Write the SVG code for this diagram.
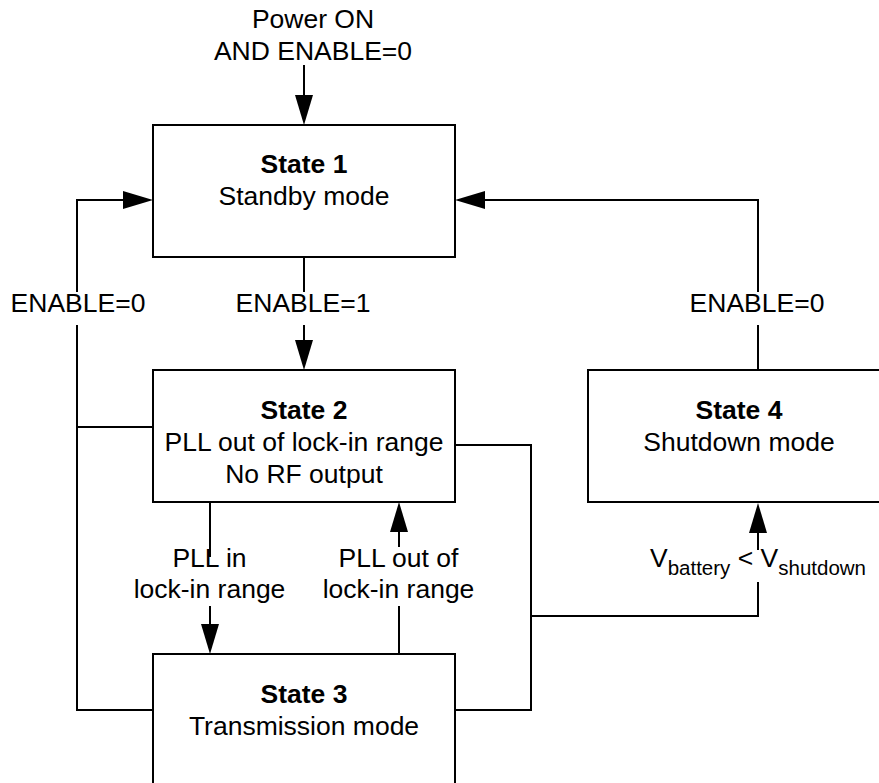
<svg xmlns="http://www.w3.org/2000/svg" width="879" height="783" viewBox="0 0 879 783">
<style>
  .box { fill: #fff; stroke: #000; stroke-width: 2; }
  .ln { fill: none; stroke: #000; stroke-width: 2; }
  text { font-family: "Liberation Sans", Arial, sans-serif; font-size: 26.5px; fill: #000; text-anchor: middle; }
  .b { font-weight: bold; }
  .sub { font-size: 20.5px; }
</style>
<defs>
  <marker id="ah" markerUnits="userSpaceOnUse" markerWidth="31" markerHeight="18" refX="0" refY="9" orient="auto">
    <path d="M0,0 L30,9 L0,18 Z" fill="#000"/>
  </marker>
</defs>
<rect width="879" height="783" fill="#fff"/>
<g id="connectors">
  <line class="ln" x1="304" y1="65" x2="304" y2="95" marker-end="url(#ah)"/>
  <line class="ln" x1="304" y1="257" x2="304" y2="292"/>
  <line class="ln" x1="304" y1="325" x2="304" y2="340" marker-end="url(#ah)"/>
  <polyline class="ln" points="77,292 77,200 123,200" marker-end="url(#ah)"/>
  <polyline class="ln" points="77,325 77,710 153,710"/>
  <line class="ln" x1="77" y1="427" x2="153" y2="427"/>
  <line class="ln" x1="210" y1="502" x2="210" y2="557"/>
  <line class="ln" x1="210" y1="606" x2="210" y2="624" marker-end="url(#ah)"/>
  <line class="ln" x1="399" y1="654" x2="399" y2="606"/>
  <line class="ln" x1="399" y1="547" x2="399" y2="532" marker-end="url(#ah)"/>
  <polyline class="ln" points="455,445 531,445 531,710 455,710"/>
  <polyline class="ln" points="531,616 758,616 758,582"/>
  <line class="ln" x1="758" y1="550" x2="758" y2="533" marker-end="url(#ah)"/>
  <line class="ln" x1="758" y1="370" x2="758" y2="325"/>
  <polyline class="ln" points="758,292 758,200 485,200" marker-end="url(#ah)"/>
</g>
<g id="labels">
  <text x="313" y="28">Power ON</text>
  <text x="313" y="60">AND ENABLE=0</text>
  <text x="78" y="312">ENABLE=0</text>
  <text x="303" y="312">ENABLE=1</text>
  <text x="757" y="312">ENABLE=0</text>
  <text x="209.5" y="567">PLL in</text>
  <text x="209.5" y="598">lock-in range</text>
  <text x="398.5" y="567">PLL out of</text>
  <text x="398.5" y="598">lock-in range</text>
  <text x="758" y="567">V<tspan class="sub" dy="8">battery</tspan><tspan dy="-8"> &lt; V</tspan><tspan class="sub" dy="8">shutdown</tspan></text>
</g>
<g id="state1">
  <rect class="box" x="153" y="125" width="302" height="132"/>
  <text class="b" x="304" y="173">State 1</text>
  <text x="304" y="205">Standby mode</text>
</g>
<g id="state2">
  <rect class="box" x="153" y="370" width="302" height="132"/>
  <text class="b" x="304" y="419">State 2</text>
  <text x="304" y="451">PLL out of lock-in range</text>
  <text x="304" y="483">No RF output</text>
</g>
<g id="state3">
  <rect class="box" x="153" y="654" width="302" height="132"/>
  <text class="b" x="304" y="703">State 3</text>
  <text x="304" y="735">Transmission mode</text>
</g>
<g id="state4">
  <rect class="box" x="588" y="370" width="302" height="132"/>
  <text class="b" x="739" y="419">State 4</text>
  <text x="739" y="451">Shutdown mode</text>
</g>
</svg>
